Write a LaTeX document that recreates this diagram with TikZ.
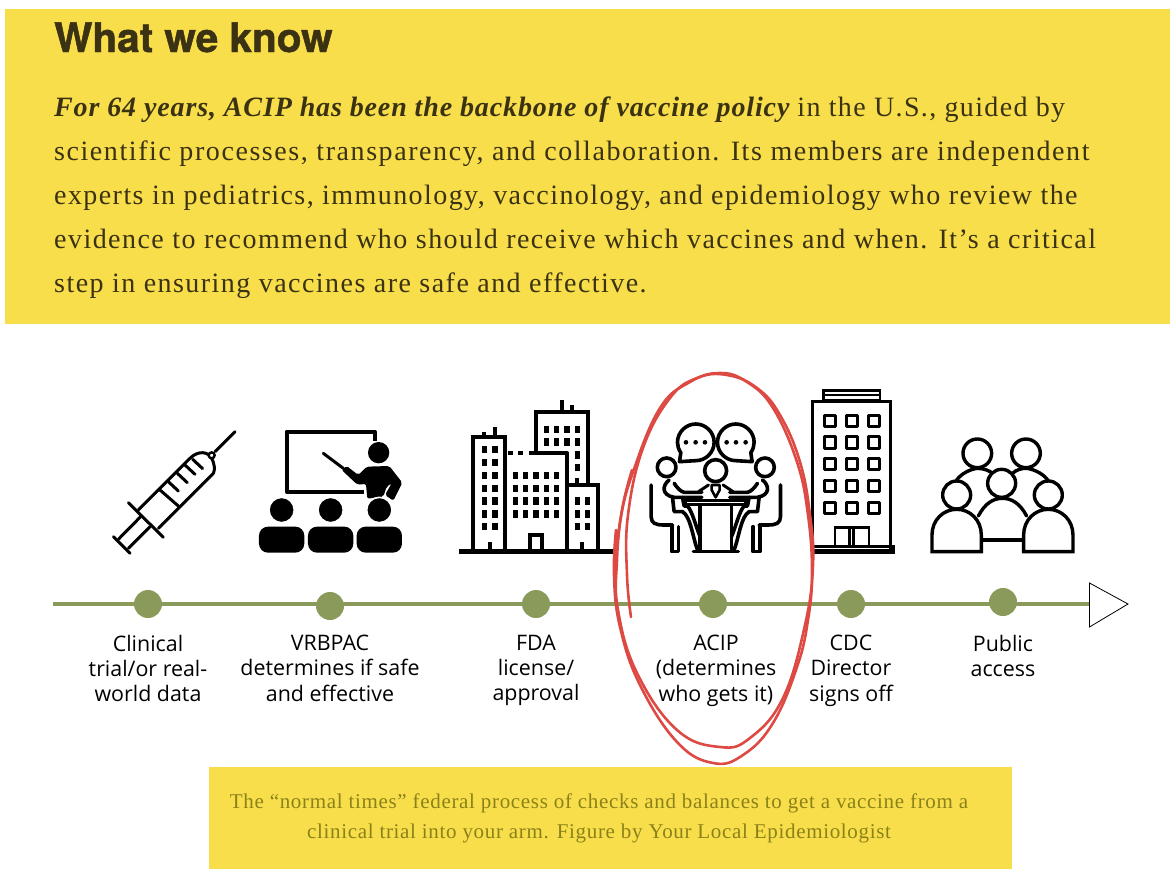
\documentclass[tikz,border=0pt]{standalone}
\usepackage{fontspec}
\setmainfont{Liberation Serif}
\newfontfamily\headfont{TeX Gyre Heros}[BoldFeatures={FakeBold=1.2}]
\newfontfamily\labelfont{Open Sans}
\newfontfamily\bodyfont{Liberation Serif}
\newfontfamily\capfont[LetterSpace=3.2]{Liberation Serif}
\definecolor{boxyellow}{HTML}{F9DE4B}
\definecolor{bodyink}{HTML}{3A3212}
\definecolor{capink}{HTML}{8A8218}
\definecolor{axisgreen}{HTML}{8A9A5B}
\definecolor{penred}{HTML}{DD4A44}
\tikzset{
  panel/.style={fill=boxyellow,draw=none},
  paraline/.style={anchor=base west,inner sep=0pt,text=bodyink,font=\bodyfont\fontsize{28}{44}\selectfont},
  stepdot/.style={circle,fill=axisgreen,minimum size=28pt,inner sep=0pt},
  steplabel/.style={anchor=north,align=center,text=black,inner sep=0pt,
    execute at begin node=\strut,
    font=\labelfont\fontsize{21.4}{25.2}\selectfont},
  ink/.style={draw=black,line width=#1,line join=round,line cap=round},
  ink/.default=3pt,
  pen/.style={draw=penred,line width=2.6pt,line cap=round,line join=round},
}
\newcommand{\spaced}[1]{\addfontfeature{LetterSpace=#1}}
\begin{document}
\begin{tikzpicture}[x=1pt,y=-1pt]
\useasboundingbox (0,0) rectangle (1176,886);
% yellow panels
\fill[panel] (5,9) rectangle (1170,324);
\fill[panel] (209,767) rectangle (1012,869);
\node[anchor=base west,inner sep=0pt,text=bodyink,font=\headfont\bfseries\fontsize{40.5}{40.5}\selectfont] (heading) at (54,52) {What we know};
\node[paraline] (line1) at (54,116) {\textbf{\textit{\spaced{3.1}For 64 years, ACIP has been the backbone of vaccine policy}} {\spaced{4.8}in the U.S., guided by}};
\node[paraline] (line2) at (54,160) {\spaced{5.6}scientific processes, transparency, and collaboration. Its members are independent};
\node[paraline] (line3) at (54,204) {\spaced{5.1}experts in pediatrics, immunology, vaccinology, and epidemiology who review the};
\node[paraline] (line4) at (54,248) {\spaced{5.2}evidence to recommend who should receive which vaccines and when. It’s a critical};
\node[paraline] (line5) at (54,292) {\spaced{5.2}step in ensuring vaccines are safe and effective.};
\node[anchor=center,inner sep=0pt,text=capink,align=center,font=\capfont\fontsize{21}{30}\selectfont] (caption) at (599,818)
{The “normal times” federal process of checks and balances to get a vaccine from a\\
clinical trial into your arm. Figure by Your Local Epidemiologist};
% timeline
\coordinate (axisstart) at (53,604);
\coordinate (axisend) at (1089,604);
\draw[axisgreen,line width=4.5pt] (axisstart) -- (axisend);
\draw[black,line width=0.8pt,fill=white,line join=miter] (1089.5,583) -- (1128,604) -- (1089.5,627) -- cycle;
\node[stepdot] (trial) at (148,604) {};
\node[stepdot] (vrbpac) at (330,606) {};
\node[stepdot] (fda) at (536,604) {};
\node[stepdot] (acip) at (713,604) {};
\node[stepdot] (cdc) at (851,604) {};
\node[stepdot] (public) at (1003,602) {};
\node[steplabel] (trialtext) at (148,635) {Clinical\\trial/or real-\\world data};
\node[steplabel] (vrbpactext) at (330,635) {VRBPAC\\determines if safe\\and effective};
\node[steplabel] (fdatext) at (536,635) {FDA\\license/\\approval};
\node[steplabel] (aciptext) at (716,635) {ACIP\\(determines\\who gets it)};
\node[steplabel] (cdctext) at (851,635) {CDC\\Director\\signs off};
\node[steplabel] (publictext) at (1003,635) {Public\\access};
% syringe
\begin{scope}[shift={(100,380)},x=0.3333pt,y=-0.3333pt]
\draw[ink=3pt] (40,470) -- (90,520);
\draw[ink=3pt] (55,478) -- (122,410) (85,505) -- (150,440);
\draw[ink=3pt] (85,368) -- (190,472);
\draw[ink=3pt] (115,390) -- (270,235) .. controls (295,210) and (325,215) .. (335,235) .. controls (345,255) and (345,270) .. (340,280) -- (175,445);
\draw[ink=3pt] (180,330) -- (235,378);
\foreach \tx/\ty in {205/305,232/280,255/255,278/238}
  \draw[ink=3pt] (\tx,\ty) -- ++(30,28);
\draw[ink=2.4pt,fill=white] (335,226) circle (9);
\draw[ink=3pt] (345,215) -- (405,155);
\end{scope}
% teacher and class
\begin{scope}[shift={(100,380)},x=0.3333pt,y=-0.3333pt]
\draw[ink=4pt,line cap=butt,line join=round] (825,182) -- (825,155) -- (560,155) -- (560,335) -- (792,335);
\draw[ink=3pt] (670,220) -- (730,265);
\fill (836,218) circle (32);
\fill[rounded corners=2pt] (725,270) -- (740,258) -- (775,285) -- (800,260) -- (868,258) -- (907,308) -- (880,362) -- (855,345) -- (875,310) -- (860,320) -- (850,350) -- (802,356) -- (798,312) -- (772,314) -- cycle;
\foreach \cx in {545,692,838} {
  \fill[rounded corners=9pt] (\cx-68,518) rectangle (\cx+68,440);
  \draw[white,line width=1.6pt,fill=black] (\cx,390) circle (38);
}
\end{scope}
% office blocks
\begin{scope}[shift={(450,380)},x=0.3333pt,y=-0.3333pt]
\draw[ink=4.6pt,line cap=butt] (28,515) -- (490,515);
\draw[ink=4pt,line cap=butt,line join=miter] (70,510) -- (70,172) -- (165,172) -- (165,510);
\draw[ink=4pt,line cap=butt] (103,172) -- (103,155) (135,172) -- (135,140) (119,510) -- (119,487);
\draw[ink=4pt,line cap=butt] (175,220) -- (190,220) (205,220) -- (220,220) (238,220) -- (352,220) -- (352,510);
\draw[ink=4pt,line cap=butt,line join=miter] (258,215) -- (258,97) -- (413,97) -- (413,310);
\draw[ink=4pt,line cap=butt] (335,97) -- (335,60) (365,97) -- (365,75) (382,315) -- (382,295) (397,510) -- (397,487);
\draw[ink=4pt,line cap=butt,line join=miter] (358,315) -- (445,315) -- (445,510);
\draw[ink=4pt,line cap=butt,line join=miter] (240,510) -- (240,465) -- (275,465) -- (275,510);
\foreach \wx in {103,135} \foreach \wy in {208,248,287,325,363,402,440}
  \fill (\wx-8,\wy-11) rectangle (\wx+8,\wy+11);
\foreach \wx in {196,227,258,289,320} \foreach \wy in {287,325,363,402}
  \fill (\wx-8,\wy-11) rectangle (\wx+8,\wy+11);
\foreach \wx in {289,320,351,382} \foreach \wy in {148,186}
  \fill (\wx-8,\wy-11) rectangle (\wx+8,\wy+11);
\foreach \wy in {225,263} \fill (374,\wy-11) rectangle (390,\wy+11);
\foreach \wx in {382,413} \foreach \wy in {363,402,440}
  \fill (\wx-8,\wy-11) rectangle (\wx+8,\wy+11);
% meeting table
\foreach \dx in {708,737,765,830,858,887} \fill (\dx,187) circle (7);
\draw[ink=3.6pt] (650,262) circle (28) (945,262) circle (28) (797,272) circle (33);
\draw[ink=3pt,line join=miter] (708,362) rectangle (887,375);
\draw[ink=3.6pt] (750,375) -- (750,510) (845,375) -- (845,510) (730,515) -- (865,515);
\foreach \side in {1,-1} {
\begin{scope}[shift={(797.5,0)},xscale=\side]
  \draw[ink=3.6pt] (-60,242) -- (-109,245) -- (-105,218) .. controls (-112,208) and (-115,197) .. (-115,187) .. controls (-115,157) and (-90,132) .. (-60,132) .. controls (-30,132) and (-5,157) .. (-5,187) .. controls (-5,217) and (-30,242) .. (-60,242);
  \draw[ink=3.6pt] (-194,315) -- (-194,410) .. controls (-194,430) and (-180,435) .. (-157,435) -- (-130,435);
  \draw[ink=3.6pt] (-132,440) -- (-132,515) -- (-112,515) -- (-112,440);
  \draw[ink=3.6pt] (-140,300) .. controls (-160,315) and (-165,345) .. (-125,352) -- (-42,352);
  \draw[ink=3.6pt] (-125,310) .. controls (-115,325) and (-105,335) .. (-95,337) -- (-42,337);
  \draw[ink=3.6pt] (-130,352) -- (-125,395) -- (-100,395) .. controls (-75,410) and (-70,470) .. (-55,510);
  \draw[ink=3.6pt] (-100,352) -- (-95,378) -- (-85,378) .. controls (-70,395) and (-60,440) .. (-47,470);
  \draw[ink=3pt] (-52,335) -- (-22,315);
\end{scope}
}
\draw[ink=2.6pt] (785,315) -- (785,330) -- (797,352) -- (809,330) -- (809,315) -- cycle;
\end{scope}
% director's building
\begin{scope}[shift={(800,380)},x=0.3333pt,y=-0.3333pt]
\draw[ink=2.8pt,fill=white,line join=miter] (38,510) rectangle (272,65);
\draw[ink=2.6pt,line join=miter] (70,62) rectangle (240,32) (70,45) -- (240,45);
\draw[ink=2.6pt,line join=miter] (38,517) rectangle (280,500);
\foreach \wx in {89,155,221} \foreach \wy in {122,188,253,319,385}
  \draw[ink=3pt,line join=round] (\wx-17,\wy-17) rectangle (\wx+17,\wy+17);
\draw[ink=2.6pt,line cap=butt,line join=miter] (105,500) -- (105,442) -- (207,442) -- (207,500) (148,442) -- (148,500) (160,442) -- (160,500);
% the public
\draw[ink=3.4pt] (470,300) .. controls (485,280) and (510,268) .. (532,265) .. controls (550,265) and (570,272) .. (580,282);
\draw[ink=3.4pt] (635,282) .. controls (650,268) and (665,265) .. (680,265) .. controls (705,268) and (735,285) .. (745,303);
\draw[ink=3.4pt] (532,220) circle (43) (678,220) circle (43);
\draw[ink=3.4pt] (545,480) -- (672,480);
\draw[ink=3.4pt] (535,408) .. controls (555,370) and (580,355) .. (607,355) .. controls (635,355) and (660,370) .. (680,408);
\draw[ink=3.4pt,fill=white] (605,310) circle (42);
\foreach \px in {470,745} {
  \draw[ink=3.4pt,fill=white,line join=miter] (\px-74,515) -- (\px-74,465) .. controls (\px-74,420) and (\px-40,388) .. (\px,388) .. controls (\px+40,388) and (\px+74,420) .. (\px+74,465) -- (\px+74,515) -- cycle;
  \draw[ink=3.4pt,fill=white] (\px,345) circle (42);
}
\end{scope}
% hand-drawn ring
\draw[pen] plot[smooth,tension=0.7] coordinates {(615,575) (620,522) (633,472) (660,408) (690,382) (720,373) (747,382) (773,408) (797,462) (808,515) (812,572) (808,620) (797,667) (773,723) (743,755) (713,763) (677,742) (640,685) (620,627) (614,575) (616,530)};
\draw[pen] plot[smooth,tension=0.7] coordinates {(631,617) (627,575) (628,515) (643,448) (670,398) (697,378) (727,375) (757,388) (780,415) (800,462) (810,515) (813,565) (805,625) (783,698) (750,738) (720,747) (677,730) (637,673) (618,610) (617,560) (622,510) (632,470)};
\end{tikzpicture}
\end{document}
